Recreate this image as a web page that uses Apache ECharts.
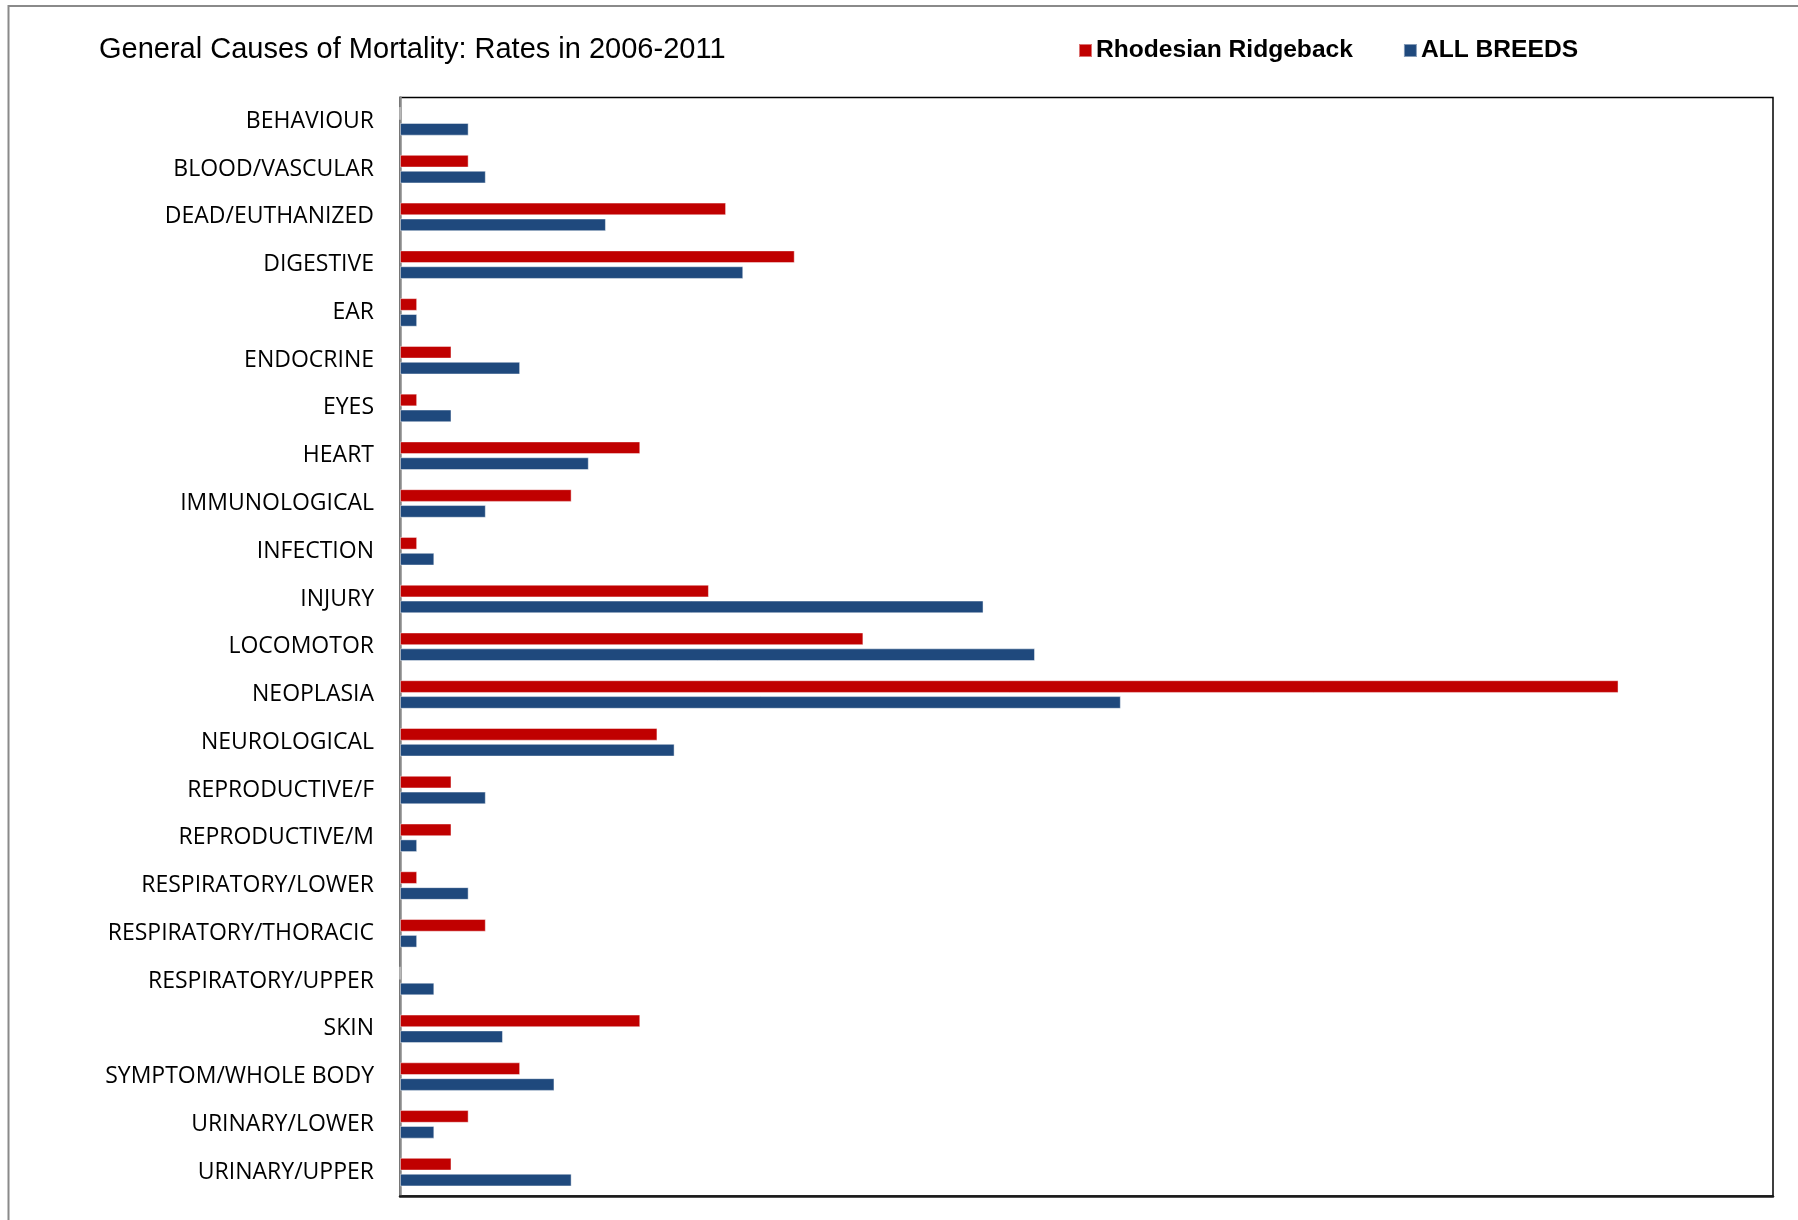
<!DOCTYPE html>
<html>
<head>
<meta charset="utf-8">
<script src="https://cdn.jsdelivr.net/npm/echarts@6/dist/echarts.min.js"></script>
<style>
html,body{margin:0;padding:0;background:#fff;}
#chart{width:1798px;height:1220px;}
</style>
</head>
<body>
<div id="chart"></div>
<script>
var categories = ["BEHAVIOUR","BLOOD/VASCULAR","DEAD/EUTHANIZED","DIGESTIVE","EAR","ENDOCRINE","EYES","HEART","IMMUNOLOGICAL","INFECTION","INJURY","LOCOMOTOR","NEOPLASIA","NEUROLOGICAL","REPRODUCTIVE/F","REPRODUCTIVE/M","RESPIRATORY/LOWER","RESPIRATORY/THORACIC","RESPIRATORY/UPPER","SKIN","SYMPTOM/WHOLE BODY","URINARY/LOWER","URINARY/UPPER"];
var ridgeback = [0,4,19,23,1,3,1,14,10,1,18,27,71,15,3,3,1,5,0,14,7,4,3];
var allBreeds = [4,5,12,20,1,7,3,11,5,2,34,37,42,16,5,1,4,1,2,6,9,2,10];
var seriesNames = ["Rhodesian Ridgeback","ALL BREEDS"];
var titleText = "General Causes of Mortality: Rates in 2006-2011";

var chart = echarts.init(document.getElementById('chart'), null, {renderer:'canvas'});
chart.setOption({
  animation:false,
  backgroundColor:'#fff',
  title:{text:titleText,left:94,top:30,textStyle:{fontFamily:'"Liberation Sans", Arial, sans-serif',fontSize:29,fontWeight:'normal',color:'#000'}},
  legend:{left:1073,top:33,itemWidth:13,itemHeight:13,itemGap:50,icon:'rect',
    textStyle:{fontFamily:'"Liberation Sans", Arial, sans-serif',fontSize:24.6,fontWeight:'bold',color:'#000',padding:[0,0,0,-1]},
    data:seriesNames},
  grid:{left:400,top:97.5,right:25,bottom:24,show:true,borderColor:'#000',borderWidth:1.5,containLabel:false},
  xAxis:{type:'value',min:0,max:80,
    axisLine:{show:true,onZero:false,lineStyle:{color:'#1a1a1a',width:2.5}},
    axisTick:{show:false},axisLabel:{show:false},splitLine:{show:false}},
  yAxis:{type:'category',inverse:true,data:categories,
    axisLine:{show:true,lineStyle:{color:'#8a8a8a',width:2.5}},
    axisTick:{show:false},
    axisLabel:{margin:26,fontFamily:'"Open Sans", sans-serif',fontSize:23,color:'#000',padding:[5,0,0,0]}},
  series:[
    {name:seriesNames[0],type:'bar',data:ridgeback,barWidth:12.7,barGap:'25%',
     itemStyle:{color:'#C00000',borderColor:'rgba(255,255,255,0.45)',borderWidth:1}},
    {name:seriesNames[1],type:'bar',data:allBreeds,barWidth:12.7,barGap:'25%',
     itemStyle:{color:'#1F497D',borderColor:'rgba(255,255,255,0.45)',borderWidth:1}}
  ],
  graphic:[{type:'rect',silent:true,z:-1,shape:{x:8.5,y:6,width:2000,height:2000},
    style:{fill:null,stroke:'#8a8a8a',lineWidth:2}}]
});
</script>
</body>
</html>
